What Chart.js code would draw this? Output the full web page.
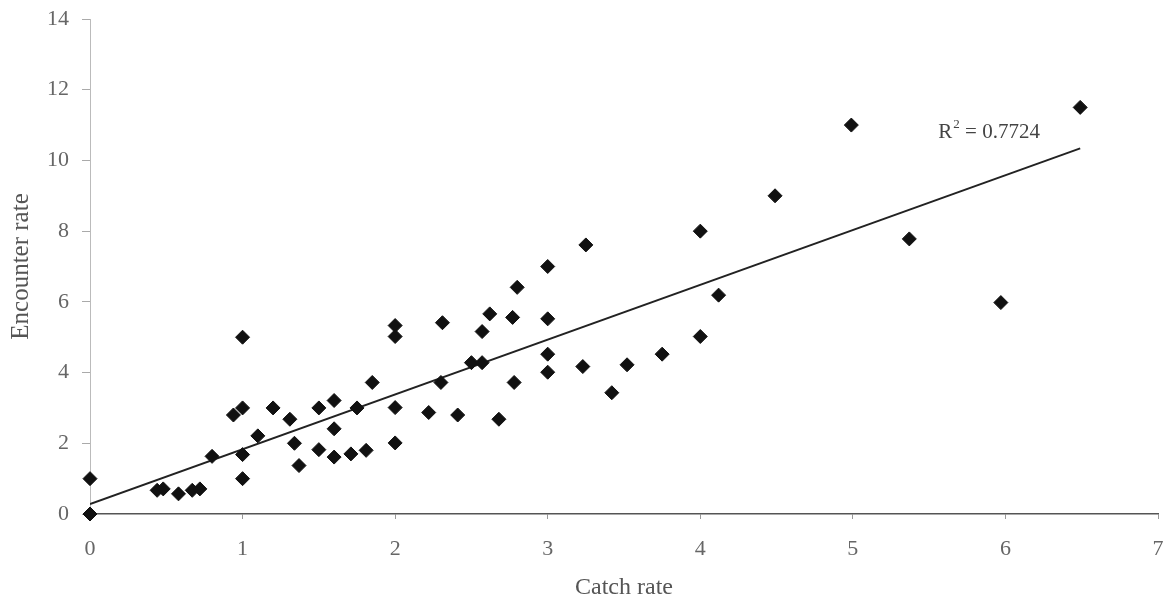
<!DOCTYPE html>
<html>
<head>
<meta charset="utf-8">
<script src="https://cdn.jsdelivr.net/npm/chart.js@4.4.1/dist/chart.umd.min.js"></script>
<style>
  html, body { margin: 0; padding: 0; background: #fff; }
  #wrap { width: 1163px; height: 601px; }
</style>
</head>
<body>
<div id="wrap"><canvas id="chart" width="1163" height="601"></canvas></div>
<script>
// observations
const catchRate = [
  0, 0, 0.44, 0.48, 0.58, 0.67, 0.72, 0.80, 0.94, 1.0,
  1.0, 1.0, 1.0, 1.10, 1.20, 1.31, 1.34, 1.37, 1.50, 1.50,
  1.60, 1.60, 1.60, 1.71, 1.75, 1.81, 1.85, 2.0, 2.0, 2.0,
  2.0, 2.31, 2.22, 2.30, 2.41, 2.57, 2.62, 2.50, 2.57, 2.68,
  2.80, 2.77, 2.78, 3.0, 3.0, 3.0, 3.0, 3.25, 3.23, 3.42,
  3.52, 3.75, 4.0, 4.0, 4.12, 4.49, 4.99, 5.37, 5.97, 6.49
];
const encounterRate = [
  1.0, 0.0, 0.67, 0.71, 0.57, 0.67, 0.71, 1.63, 2.80, 5.0,
  3.0, 1.68, 1.0, 2.21, 3.0, 2.68, 2.0, 1.37, 3.0, 1.82,
  3.21, 2.41, 1.61, 1.70, 3.0, 1.80, 3.72, 5.33, 5.02, 3.01,
  2.01, 5.41, 2.87, 3.72, 2.80, 5.16, 5.66, 4.28, 4.28, 2.68,
  6.41, 5.56, 3.72, 7.0, 5.52, 4.52, 4.01, 7.61, 4.17, 3.43,
  4.22, 4.52, 8.0, 5.02, 6.19, 9.0, 11.0, 7.78, 5.98, 11.5
];

// linear trend line end points (as drawn)
const trendX = [0, 6.49];
const trendY = [0.28, 10.34];
const rSquared = '0.7724';

const xTicks = [0, 1, 2, 3, 4, 5, 6, 7];
const yTicks = [0, 2, 4, 6, 8, 10, 12, 14];

const serif = '"Liberation Serif", "DejaVu Serif", serif';

const points = catchRate.map((x, i) => ({ x: x, y: encounterRate[i] }));
const trend = trendX.map((x, i) => ({ x: x, y: trendY[i] }));

// R² label next to the end of the trend line
const r2Label = {
  id: 'r2Label',
  afterDatasetsDraw(chart) {
    const ctx = chart.ctx;
    const px = chart.scales.x.getPixelForValue(5.56);
    const py = chart.scales.y.getPixelForValue(10.78);
    ctx.save();
    ctx.fillStyle = '#444';
    ctx.textBaseline = 'middle';
    ctx.textAlign = 'left';
    ctx.font = '21px ' + serif;
    ctx.fillText('R', px, py);
    let w = ctx.measureText('R').width;
    ctx.font = '13px ' + serif;
    ctx.fillText('2', px + w + 1, py - 8);
    w += ctx.measureText('2').width + 1;
    ctx.font = '21px ' + serif;
    ctx.fillText(' = ' + rSquared, px + w, py);
    ctx.restore();
  }
};

new Chart(document.getElementById('chart'), {
  type: 'scatter',
  data: {
    datasets: [{
      label: 'Observations',
      data: points,
      pointStyle: 'rectRot',
      pointRadius: 7,
      pointBackgroundColor: '#111',
      pointBorderColor: '#111',
      pointBorderWidth: 1,
      clip: false,
      order: 1
    }, {
      label: 'Linear trend',
      data: trend,
      showLine: true,
      pointRadius: 0,
      borderColor: '#222',
      borderWidth: 2,
      order: 2
    }]
  },
  options: {
    responsive: false,
    animation: false,
    layout: { autoPadding: false, padding: { top: 19, right: 5, left: 0, bottom: 0 } },
    plugins: {
      legend: { display: false },
      tooltip: { enabled: false }
    },
    scales: {
      x: {
        type: 'linear',
        min: 0,
        max: 7,
        afterBuildTicks: s => { s.ticks = xTicks.map(v => ({ value: v })); },
        afterFit: s => { s.height = 87; s.paddingLeft = 0; s.paddingRight = 0; },
        ticks: { color: '#666', font: { family: serif, size: 22 }, padding: 17 },
        grid: { drawOnChartArea: false, tickLength: 5, color: '#999' },
        border: { color: '#555', width: 1.5 },
        title: {
          display: true, text: 'Catch rate', color: '#555',
          font: { family: serif, size: 24, lineHeight: 1 }, padding: { top: 0, bottom: 1 }
        }
      },
      y: {
        type: 'linear',
        min: 0,
        max: 14,
        afterBuildTicks: s => { s.ticks = yTicks.map(v => ({ value: v })); },
        afterFit: s => { s.width = 90; s.paddingTop = 0; s.paddingBottom = 0; },
        ticks: { color: '#666', font: { family: serif, size: 22 }, padding: 13 },
        grid: { drawOnChartArea: false, tickLength: 8, color: '#aaa' },
        border: { color: '#bbb', width: 1 },
        title: {
          display: true, text: 'Encounter rate', color: '#555',
          font: { family: serif, size: 25, lineHeight: 1 }, padding: { top: 9, bottom: 0 }
        }
      }
    }
  },
  plugins: [r2Label]
});
</script>
</body>
</html>
